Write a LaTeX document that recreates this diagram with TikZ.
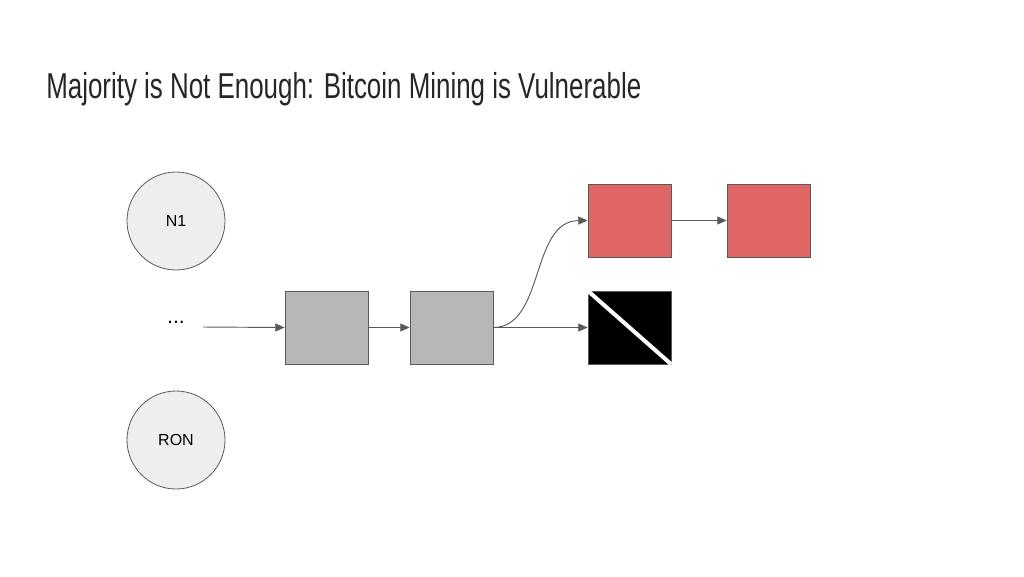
\documentclass[tikz,border=0pt]{standalone}
\usepackage{fontspec}
\setmainfont{Liberation Sans}
\newfontfamily\titlefont[FakeStretch=0.72]{Liberation Sans}
\usetikzlibrary{arrows.meta}
\definecolor{boxgray}{HTML}{B7B7B7}
\definecolor{boxred}{HTML}{E06666}
\definecolor{edge}{HTML}{595959}
\definecolor{circfill}{HTML}{EEEEEE}
\begin{document}
\begin{tikzpicture}[x=0.75pt,y=-0.75pt,
  blk/.style={draw=edge,line width=0.6pt,minimum width=62.25pt,minimum height=54.75pt,inner sep=0},
  circ/.style={circle,draw=edge,line width=0.6pt,fill=circfill,minimum size=73.5pt,inner sep=0,font=\fontsize{12}{14}\selectfont},
  arr/.style={draw=edge,line width=0.7pt,-{Triangle[length=7pt,width=6pt]}}]
\useasboundingbox (0,0) rectangle (1024,576);
\node[anchor=base west,inner sep=0,font=\titlefont\fontsize{27}{32}\selectfont,text=black!85] (title) at (46,98) {Majority is Not Enough: Bitcoin Mining is Vulnerable};
\node[circ] (n1) at (176,221) {N1};
\node[circ] (ron) at (176,440) {RON};
\node[font=\fontsize{16}{18}\selectfont] (dots) at (176,322) {...};
\coordinate (s) at (203,327);
\node[blk,fill=boxgray] (g1) at (326.5,327.5) {};
\node[blk,fill=boxgray] (g2) at (451.5,327.5) {};
\node[blk,fill=boxred] (r1) at (629.5,220.5) {};
\node[blk,fill=boxred] (r2) at (768.5,220.5) {};
\node[blk,fill=black] (b) at (629.5,327.5) {};
\draw[white,line width=3pt] (b.north west) -- (b.south east);
\draw[arr] (s) -- (g1.west);
\draw[arr] (g1.east) -- (g2.west);
\draw[arr] (g2.east) -- (b.west);
\draw[arr] (g2.east) .. controls (545,327) and (530,221) .. (r1.west);
\draw[arr] (r1.east) -- (r2.west);
\end{tikzpicture}
\end{document}
